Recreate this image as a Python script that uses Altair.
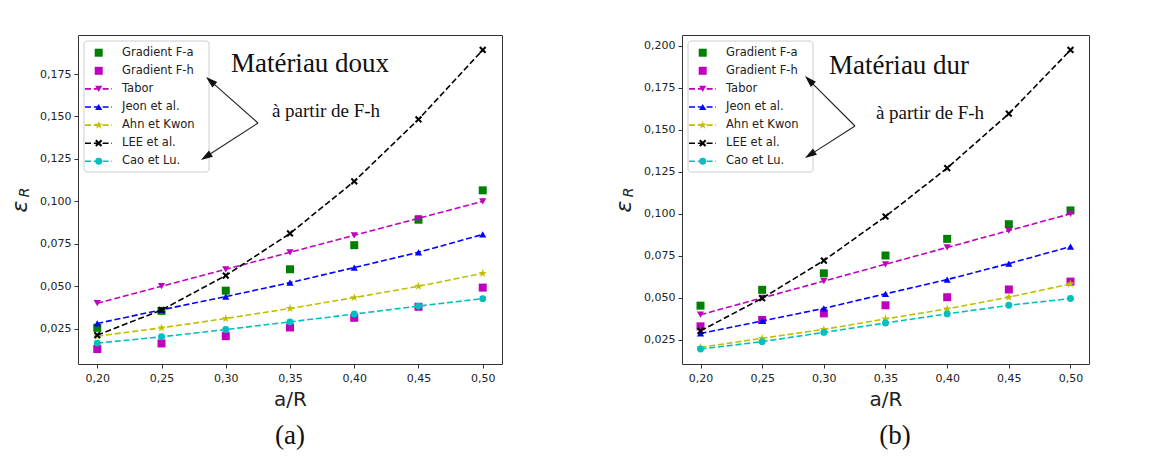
import math
import altair as alt
import pandas as pd

# ---------------- data ----------------
x_vals = [0.20, 0.25, 0.30, 0.35, 0.40, 0.45, 0.50]
series = ["Gradient F-a", "Gradient F-h", "Tabor", "Jeon et al.",
          "Ahn et Kwon", "LEE et al.", "Cao et Lu."]

# (a) Matériau doux
a_grad_fa = [0.0255, 0.0355, 0.0474, 0.0600, 0.0742, 0.0892, 0.1065]
a_grad_fh = [0.0130, 0.0163, 0.0206, 0.0257, 0.0314, 0.0379, 0.0492]
a_tabor = [0.040, 0.050, 0.060, 0.070, 0.080, 0.090, 0.100]
a_jeon = [0.0281, 0.0361, 0.0439, 0.0521, 0.0610, 0.0700, 0.0805]
a_ahn = [0.0206, 0.0255, 0.0310, 0.0369, 0.0433, 0.0500, 0.0576]
a_lee = [0.0212, 0.0360, 0.0563, 0.0811, 0.1118, 0.1483, 0.1892]
a_cao = [0.0165, 0.0202, 0.0245, 0.0290, 0.0336, 0.0383, 0.0427]

# (b) Matériau dur
b_grad_fa = [0.0454, 0.0548, 0.0646, 0.0752, 0.0851, 0.0938, 0.1020]
b_grad_fh = [0.0331, 0.0369, 0.0408, 0.0456, 0.0504, 0.0550, 0.0597]
b_tabor = [0.040, 0.050, 0.060, 0.070, 0.080, 0.090, 0.100]
b_jeon = [0.0289, 0.0363, 0.0438, 0.0524, 0.0609, 0.0704, 0.0805]
b_ahn = [0.0206, 0.0260, 0.0313, 0.0375, 0.0435, 0.0504, 0.0583]
b_lee = [0.0304, 0.0498, 0.0722, 0.0984, 0.1272, 0.1595, 0.1974]
b_cao = [0.0196, 0.0240, 0.0295, 0.0351, 0.0405, 0.0456, 0.0496]

a_yticks = [0.025, 0.050, 0.075, 0.100, 0.125, 0.150, 0.175]
b_yticks = [0.025, 0.050, 0.075, 0.100, 0.125, 0.150, 0.175, 0.200]

# ---------------- styles ----------------
STAR = ("M0,-1L0.224,-0.309L0.951,-0.309L0.363,0.118L0.588,0.809L0,0.382"
        "L-0.588,0.809L-0.363,0.118L-0.951,-0.309L-0.224,-0.309Z")
XMARK = ("M-1,-0.6L-0.6,-1L0,-0.4L0.6,-1L1,-0.6L0.4,0L1,0.6L0.6,1L0,0.4"
         "L-0.6,1L-1,0.6L-0.4,0Z")
HEAD = "M0,-1L0.62,1L-0.62,1Z"

styles = {
    "Gradient F-a": dict(color="#008000", shape="square", size=64, line=False),
    "Gradient F-h": dict(color="#bf00bf", shape="square", size=64, line=False),
    "Tabor": dict(color="#bf00bf", shape="triangle-down", size=52, line=True),
    "Jeon et al.": dict(color="#0000ff", shape="triangle-up", size=52, line=True),
    "Ahn et Kwon": dict(color="#bfbf00", shape=STAR, size=78, line=True),
    "LEE et al.": dict(color="#000000", shape=XMARK, size=52, line=True),
    "Cao et Lu.": dict(color="#00bfbf", shape="circle", size=48, line=True),
}
DASH = [6, 2.8]
FONT = "DejaVu Sans"
SERIF = "Liberation Serif"
INK = "#222222"


def one():
    return pd.DataFrame({"k": [0]})


def panel(vals, width, height, yticks, title_text, title_pos, sub_pos,
          tail, heads, letter, letter_x):
    rows = []
    for name, ys in zip(series, vals):
        for xv, yv in zip(x_vals, ys):
            rows.append({"x": xv, "y": yv, "s": name})
    df = pd.DataFrame(rows)
    ymin, ymax = df["y"].min(), df["y"].max()
    m = 0.05 * (ymax - ymin)
    ydom = [ymin - m, ymax + m]
    xdom = [0.185, 0.515]

    def px(p):
        return xdom[0] + p / width * (xdom[1] - xdom[0])

    def py(p):
        return ydom[1] - p / height * (ydom[1] - ydom[0])

    xaxis = alt.Axis(values=x_vals,
                     labelExpr="replace(format(datum.value, '.2f'), '.', ',')",
                     title="a/R", titleFont=FONT, titleFontSize=20,
                     titleFontWeight="normal", titleColor=INK, titlePadding=6,
                     labelFont=FONT, labelFontSize=11, labelColor=INK,
                     labelPadding=4, tickSize=4, tickColor="#333333",
                     grid=False, domain=False)
    yaxis = alt.Axis(values=yticks,
                     labelExpr="replace(format(datum.value, '.3f'), '.', ',')",
                     title=None, labelFont=FONT, labelFontSize=11,
                     labelColor=INK, labelPadding=3, tickSize=4,
                     tickColor="#333333", grid=False, domain=False)
    X = alt.X("x:Q", scale=alt.Scale(domain=xdom, nice=False, zero=False), axis=xaxis)
    Y = alt.Y("y:Q", scale=alt.Scale(domain=ydom, nice=False, zero=False), axis=yaxis)

    layers = []
    # data series
    for name in series:
        st = styles[name]
        sub = df[df["s"] == name]
        if st["line"]:
            layers.append(alt.Chart(sub).mark_line(
                color=st["color"], strokeDash=DASH, strokeWidth=1.6
            ).encode(x=X, y=Y))
        layers.append(alt.Chart(sub).mark_point(
            filled=True, opacity=1, color=st["color"], shape=st["shape"],
            size=st["size"]
        ).encode(x=X, y=Y))

    # legend box
    layers.append(alt.Chart(one()).mark_rect(
        fill="white", fillOpacity=0.85, stroke="#cccccc", strokeWidth=1,
        cornerRadius=3
    ).encode(x=alt.value(6), x2=alt.value(131), y=alt.value(6), y2=alt.value(137)))
    for i, name in enumerate(series):
        st = styles[name]
        ly = 17.7 + 18.1 * i
        if st["line"]:
            seg = pd.DataFrame({"x": [px(7)], "x2": [px(34)], "y": [py(ly)]})
            layers.append(alt.Chart(seg).mark_rule(
                color=st["color"], strokeDash=DASH, strokeWidth=1.6
            ).encode(x=X, x2="x2:Q", y=Y))
        mk = pd.DataFrame({"x": [px(20.7)], "y": [py(ly)]})
        layers.append(alt.Chart(mk).mark_point(
            filled=True, opacity=1, color=st["color"], shape=st["shape"],
            size=st["size"]
        ).encode(x=X, y=Y))
        tx = pd.DataFrame({"x": [px(44)], "y": [py(ly)], "t": [name]})
        layers.append(alt.Chart(tx).mark_text(
            align="left", baseline="middle", font=FONT, fontSize=11.5, color=INK
        ).encode(x=X, y=Y, text="t:N"))

    # annotations
    t1 = pd.DataFrame({"x": [px(title_pos[0])], "y": [py(title_pos[1])], "t": [title_text]})
    layers.append(alt.Chart(t1).mark_text(
        align="center", baseline="middle", font=SERIF, fontSize=27, color="#111111"
    ).encode(x=X, y=Y, text="t:N"))
    t2 = pd.DataFrame({"x": [px(sub_pos[0])], "y": [py(sub_pos[1])], "t": ["à partir de F-h"]})
    layers.append(alt.Chart(t2).mark_text(
        align="center", baseline="middle", font=SERIF, fontSize=19, color="#111111"
    ).encode(x=X, y=Y, text="t:N"))
    for hx, hy in heads:
        dx, dy = hx - tail[0], hy - tail[1]
        n = math.hypot(dx, dy)
        ux, uy = dx / n, dy / n
        ang = math.degrees(math.atan2(ux, -uy)) % 360
        seg = pd.DataFrame({"x": [px(tail[0])], "y": [py(tail[1])],
                            "x2": [px(hx - 4 * ux)], "y2": [py(hy - 4 * uy)]})
        layers.append(alt.Chart(seg).mark_rule(color="#222222", strokeWidth=1.1)
                      .encode(x=X, y=Y, x2="x2:Q", y2="y2:Q"))
        hd = pd.DataFrame({"x": [px(hx)], "y": [py(hy)]})
        layers.append(alt.Chart(hd).mark_point(
            filled=True, opacity=1, color="#111111", shape=HEAD, size=140,
            angle=ang, xOffset=-5.9 * ux, yOffset=-5.9 * uy
        ).encode(x=X, y=Y))

    # y-axis title epsilon_R
    layers.append(alt.Chart(one()).mark_text(
        text="ε", font=FONT, fontStyle="italic", fontSize=22, angle=270,
        align="center", baseline="middle", color=INK
    ).encode(x=alt.value(-58), y=alt.value(height / 2 + 7)))
    layers.append(alt.Chart(one()).mark_text(
        text="R", font=FONT, fontStyle="italic", fontSize=14, angle=270,
        align="center", baseline="middle", color=INK
    ).encode(x=alt.value(-53), y=alt.value(height / 2 - 7)))

    # panel letter
    layers.append(alt.Chart(one()).mark_text(
        text=letter, font=SERIF, fontSize=27, align="center",
        baseline="middle", color="#111111"
    ).encode(x=alt.value(letter_x), y=alt.value(height + 72)))

    return alt.layer(*layers).properties(width=width, height=height)


H = 329
WA, WB = 424, 407
pa = panel([a_grad_fa, a_grad_fh, a_tabor, a_jeon, a_ahn, a_lee, a_cao],
           WA, H, a_yticks, "Matériau doux", (232, 29), (248, 76),
           (180, 88), [(128, 42), (123, 125)], "(a)", WA / 2)
pb = panel([b_grad_fa, b_grad_fh, b_tabor, b_jeon, b_ahn, b_lee, b_cao],
           WB, H, b_yticks, "Matériau dur", (217, 31), (248, 78),
           (173, 91), [(123, 41), (123, 123)], "(b)", 213)

chart = alt.hconcat(pa, pb, spacing=180, bounds="flush").properties(
    padding={"left": 0, "top": 26, "right": 5, "bottom": 0}
).configure_view(stroke="#333333", strokeWidth=1)

chart.save("out.html", embed_options={"renderer": "svg", "actions": False})
